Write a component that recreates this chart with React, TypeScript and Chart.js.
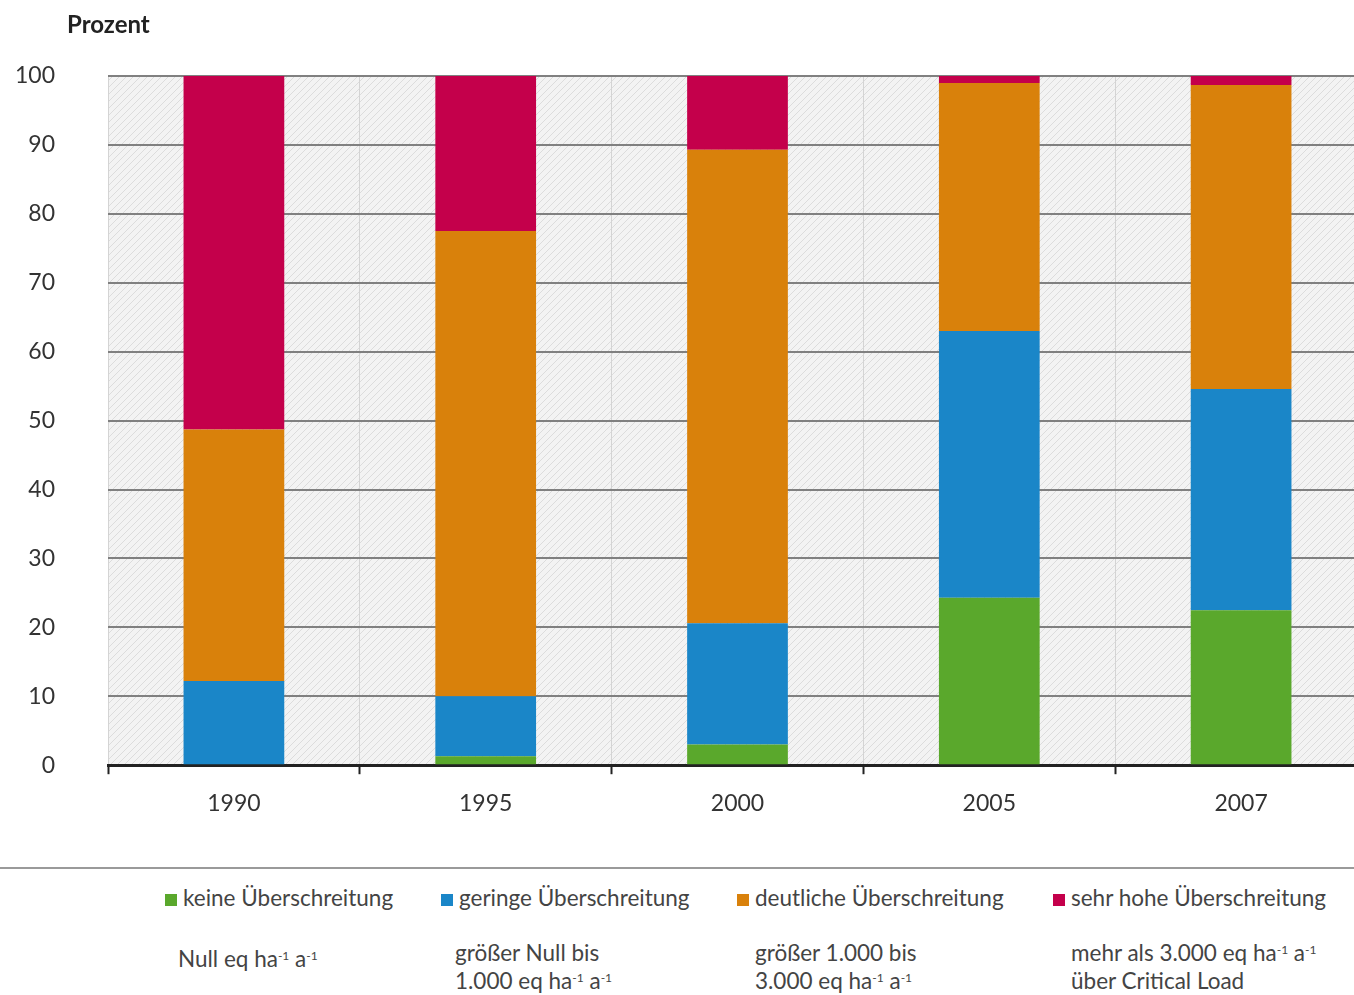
import React, { useEffect, useRef } from "react";
import { Chart, registerables } from "chart.js";

Chart.register(...registerables);

const years = ["1990", "1995", "2000", "2005", "2007"];
const keine = [0, 1.3, 3.0, 24.3, 22.5];
const geringe = [12.2, 8.7, 17.6, 38.7, 32.1];
const deutliche = [36.5, 67.5, 68.7, 36.0, 44.1];
const sehrHohe = [51.3, 22.5, 10.7, 1.0, 1.3];
const seriesNames = [
  "keine Überschreitung",
  "geringe Überschreitung",
  "deutliche Überschreitung",
  "sehr hohe Überschreitung",
];
const colors = ["#5aa82c", "#1a86c8", "#d9810b", "#c4004b"];
const yTicks = [0, 10, 20, 30, 40, 50, 60, 70, 80, 90, 100];

const FONT = "Lato, 'Noto Sans', sans-serif";

const hatchPlugin = {
  id: "hatch",
  beforeDraw(chart: any) {
    const { ctx, chartArea } = chart;
    const p = document.createElement("canvas");
    p.width = 7;
    p.height = 7;
    const pc = p.getContext("2d")!;
    pc.fillStyle = "#f3f3f3";
    pc.fillRect(0, 0, 7, 7);
    pc.strokeStyle = "#dcdcdc";
    pc.lineWidth = 1;
    pc.beginPath();
    pc.moveTo(-1, 8);
    pc.lineTo(8, -1);
    pc.stroke();
    const pat = ctx.createPattern(p, "repeat");
    ctx.save();
    ctx.fillStyle = pat;
    ctx.fillRect(chartArea.left, chartArea.top, chartArea.right - chartArea.left, chartArea.bottom - chartArea.top);
    ctx.restore();
  },
};

function Sup({ children }: { children: React.ReactNode }) {
  return <sup style={{ fontSize: "12px", verticalAlign: "7px", lineHeight: 0 }}>{children}</sup>;
}

export default function App() {
  const ref = useRef<HTMLCanvasElement>(null);

  useEffect(() => {
    const datasets = [keine, geringe, deutliche, sehrHohe].map((d, i) => ({
      label: seriesNames[i],
      data: d,
      backgroundColor: colors[i],
      borderWidth: 0,
      barPercentage: 0.8,
      categoryPercentage: 0.5,
    }));
    const chart = new Chart(ref.current!, {
      type: "bar",
      data: { labels: years, datasets },
      plugins: [hatchPlugin],
      options: {
        animation: false,
        responsive: false,
        maintainAspectRatio: false,
        layout: { padding: { top: 76, right: 0, bottom: 0, left: 0 } },
        plugins: { legend: { display: false }, tooltip: { enabled: false } },
        scales: {
          x: {
            stacked: true,
            afterFit: (s: any) => {
              s.height = 60;
            },
            grid: {
              offset: true,
              color: "#d4d4d4",
              lineWidth: 1,
              tickColor: "#222",
              tickWidth: 2,
              tickLength: 9,
            },
            border: { display: true, color: "#222", width: 3 },
            ticks: { color: "#333", font: { family: FONT, size: 23 }, padding: 16 },
          },
          y: {
            stacked: true,
            min: 0,
            max: 100,
            afterFit: (s: any) => {
              s.width = 108;
            },
            afterBuildTicks: (s: any) => {
              s.ticks = yTicks.map((v) => ({ value: v }));
            },
            grid: { color: "#808080", lineWidth: 2, drawTicks: false },
            border: { display: false },
            ticks: { color: "#333", font: { family: FONT, size: 23 }, padding: 53 },
          },
        },
      },
    });
    return () => chart.destroy();
  }, []);

  const textStyle: React.CSSProperties = {
    position: "absolute",
    fontFamily: FONT,
    fontSize: "22.5px",
    color: "#444",
    whiteSpace: "nowrap",
  };
  const legendX = [165, 441, 737, 1053];
  const sub: React.ReactNode[] = [
    <>Null eq ha<Sup>-1</Sup> a<Sup>-1</Sup></>,
    <>größer Null bis<br />1.000 eq ha<Sup>-1</Sup> a<Sup>-1</Sup></>,
    <>größer 1.000 bis<br />3.000 eq ha<Sup>-1</Sup> a<Sup>-1</Sup></>,
    <>mehr als 3.000 eq ha<Sup>-1</Sup> a<Sup>-1</Sup><br />über Critical Load</>,
  ];
  const subX = [178, 455, 755, 1071];
  const subY = [945, 939, 939, 939];

  return (
    <div style={{ position: "fixed", left: 0, top: 0, width: 1354, height: 995, overflow: "hidden", background: "#fff" }}>
      <canvas ref={ref} width={1367} height={832} style={{ position: "absolute", left: 0, top: 0, width: 1367, height: 832 }} />
      <div style={{ ...textStyle, left: 67, top: 9, fontWeight: "bold", color: "#222", fontSize: "24px" }}>Prozent</div>
      <div style={{ position: "absolute", left: 0, top: 867, width: 1354, height: 2, background: "#9a9a9a" }} />
      {seriesNames.map((n, i) => (
        <div key={n} style={{ ...textStyle, left: legendX[i], top: 886, lineHeight: "24px" }}>
          <span style={{ display: "inline-block", width: 12, height: 12, background: colors[i], marginRight: 6, verticalAlign: "0px" }} />
          {n}
        </div>
      ))}
      {sub.map((s, i) => (
        <div key={i} style={{ ...textStyle, left: subX[i], top: subY[i], lineHeight: "28px" }}>
          {s}
        </div>
      ))}
    </div>
  );
}
